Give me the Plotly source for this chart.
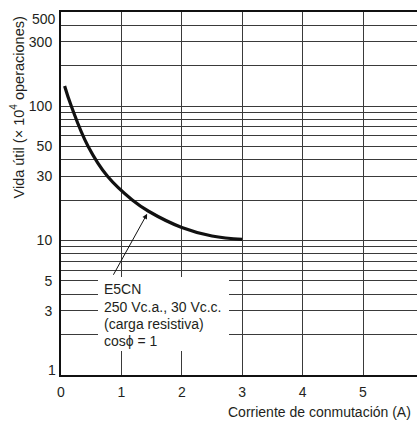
import math
import plotly.graph_objects as go

# Data
current_a = [0.06, 0.17, 0.45, 0.77, 1.18, 1.45, 2.0, 2.5, 3.0]
life_1e4_ops = [141, 100, 50, 30, 20, 16.5, 12.5, 10.8, 10.2]
arrow_point = 5  # index of the point the label arrow points at

x_ticks = [0, 1, 2, 3, 4, 5]
x_ticktext = ["0", "1", "2", "3", "4", "5"]
y_grid = [1, 2, 3, 4, 5, 6, 7, 8, 9, 10, 20, 30, 40, 50, 60, 70, 80, 90, 100, 200, 300, 400, 500]
y_labeled = {3: "3", 5: "5", 10: "10", 30: "30", 50: "50", 100: "100", 300: "300"}
y_ticktext = [y_labeled.get(v, "") for v in y_grid]

label_lines = ["E5CN", "250 Vc.a., 30 Vc.c.", "(carga resistiva)", "cos\u03d5 = 1"]

FIG_W, FIG_H = 417, 421
L, T, R, B = 61, 12, 0, 46
W = FIG_W - L - R
H = FIG_H - T - B
PX_PER_A = 60.4


def px(xp):
    return (xp - L) / W


def py(yp):
    return (T + H - yp) / H


FONT = "Liberation Sans, Arial, Helvetica, sans-serif"
TXT = "#231f20"
GRID = "#3a3a3a"

fig = go.Figure()
fig.add_trace(go.Scatter(
    x=current_a, y=life_1e4_ops, mode="lines",
    line=dict(color="#111111", width=3.2, shape="spline", smoothing=1.2),
    hoverinfo="skip", showlegend=False,
))

annotations = []
# y-axis title
annotations.append(dict(
    xref="paper", yref="paper", x=px(17), y=py(107.5),
    text="Vida útil (× 10<sup>4</sup> operaciones)", textangle=-90,
    showarrow=False, xanchor="center", yanchor="middle",
    font=dict(size=14.5, color=TXT, family=FONT),
))
# x-axis title (clipped at right edge as in reference)
annotations.append(dict(
    xref="paper", yref="paper", x=px(227), y=py(412),
    text="Corriente de conmutación (A)", showarrow=False,
    xanchor="left", yanchor="middle", borderpad=0,
    font=dict(size=14, color=TXT, family=FONT),
))
# clipped "6" tick label
annotations.append(dict(
    xref="paper", yref="paper", x=px(61 + 6 * PX_PER_A + 2), y=py(385),
    text="6", showarrow=False, xanchor="center", yanchor="middle",
    font=dict(size=14, color=TXT, family=FONT),
))
# extreme y labels shifted inward
annotations.append(dict(
    xref="paper", yref="paper", x=px(57), y=py(19), text="500",
    showarrow=False, xanchor="right", yanchor="middle", borderpad=0,
    font=dict(size=14, color=TXT, family=FONT),
))
annotations.append(dict(
    xref="paper", yref="paper", x=px(57), y=py(370), text="1",
    showarrow=False, xanchor="right", yanchor="middle", borderpad=0,
    font=dict(size=14, color=TXT, family=FONT),
))
# label block
baselines = [294.3, 311.5, 328.5, 345.7]
for line, bl in zip(label_lines, baselines):
    annotations.append(dict(
        xref="paper", yref="paper", x=px(102.5), y=py(bl - 5),
        text=line, showarrow=False, xanchor="left", yanchor="middle",
        borderpad=0, font=dict(size=14, color=TXT, family=FONT),
    ))
# arrow pointing to the curve
annotations.append(dict(
    xref="x", yref="y", x=current_a[arrow_point],
    y=math.log10(life_1e4_ops[arrow_point]),
    text="", showarrow=True, ax=-36, ay=65, arrowhead=2, arrowsize=1,
    arrowwidth=1, arrowcolor="#111111", standoff=3,
))

shapes = [dict(
    type="rect", xref="paper", yref="paper", layer="above",
    x0=px(98), x1=px(229), y0=py(351), y1=py(277),
    fillcolor="white", line=dict(width=0),
)]

fig.update_layout(
    width=FIG_W, height=FIG_H,
    margin=dict(l=L, r=R, t=T, b=B, pad=0),
    paper_bgcolor="white", plot_bgcolor="white",
    font=dict(family=FONT, size=14, color=TXT),
    annotations=annotations, shapes=shapes,
    xaxis=dict(
        range=[0, W / PX_PER_A], tickvals=x_ticks, ticktext=x_ticktext,
        showgrid=True, gridcolor=GRID, gridwidth=1, zeroline=False,
        showline=True, linecolor="#111111", linewidth=2, mirror=True,
        ticks="", ticklabelstandoff=3,
        tickfont=dict(size=14, color=TXT, family=FONT),
        fixedrange=True,
    ),
    yaxis=dict(
        type="log", range=[0, math.log10(500)],
        tickvals=y_grid, ticktext=y_ticktext,
        showgrid=True, gridcolor=GRID, gridwidth=1, zeroline=False,
        showline=True, linecolor="#111111", linewidth=2,
        ticks="", ticklabelstandoff=4,
        tickfont=dict(size=14, color=TXT, family=FONT),
        fixedrange=True,
    ),
)

fig.write_html(
    "out.html",
    config={"displayModeBar": False},
    post_script="document.body.style.margin='0';document.body.style.overflow='hidden';",
)
